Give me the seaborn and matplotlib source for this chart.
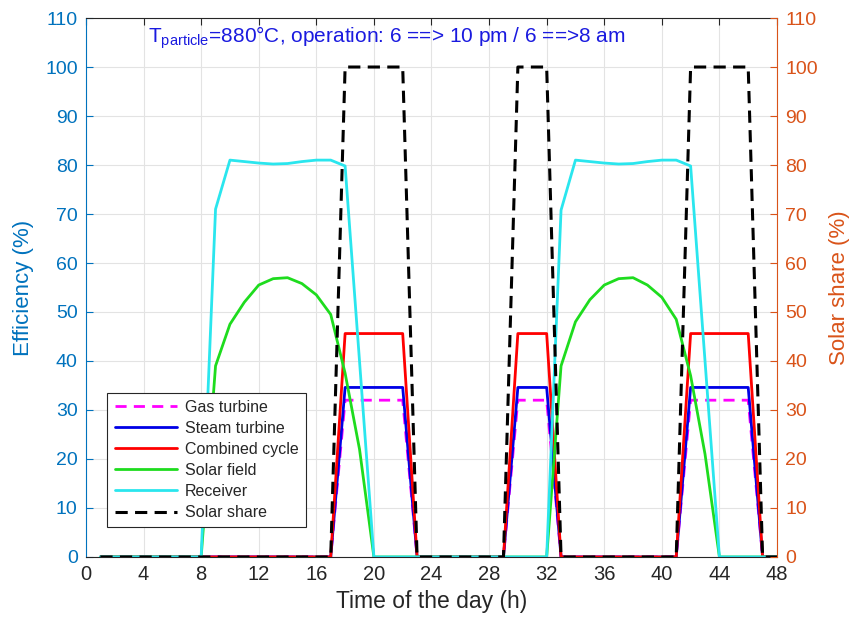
import numpy as np
import pandas as pd
import matplotlib
matplotlib.use("Agg")
import matplotlib.pyplot as plt
import seaborn as sns

# Hourly time axis (h), two days
hours = list(range(1, 49))

# Efficiencies (%)
gas_turbine = [0]*17 + [32.0]*5 + [0]*7 + [32.0]*3 + [0]*9 + [32.0]*5 + [0]*2
steam_turbine = [0]*17 + [34.6]*5 + [0]*7 + [34.6]*3 + [0]*9 + [34.6]*5 + [0]*2
combined_cycle = [0]*17 + [45.6]*5 + [0]*7 + [45.6]*3 + [0]*9 + [45.6]*5 + [0]*2
solar_field = ([0, 0, 0, 0, 0, 0, 0, 0,
                39.0, 47.5, 52.0, 55.5, 56.8, 57.0, 55.8, 53.5, 49.5, 37.5, 22.0,
                0, 0, 0, 0, 0, 0, 0, 0, 0, 0, 0, 0, 0,
                39.0, 48.0, 52.5, 55.5, 56.8, 57.0, 55.5, 53.0, 48.5, 37.0, 21.0,
                0, 0, 0, 0, 0])
receiver = ([0, 0, 0, 0, 0, 0, 0, 0,
             71.0, 81.0, 80.7, 80.4, 80.2, 80.3, 80.7, 81.0, 81.0, 79.8, 40.0,
             0, 0, 0, 0, 0, 0, 0, 0, 0, 0, 0, 0, 0,
             70.8, 81.0, 80.7, 80.4, 80.2, 80.3, 80.7, 81.0, 81.0, 79.8, 40.0,
             0, 0, 0, 0, 0])
# Solar share (%), right axis
solar_share = [0]*17 + [100]*5 + [0]*7 + [100]*3 + [0]*9 + [100]*5 + [0]*2

x_ticks = list(range(0, 49, 4))
y_ticks = list(range(0, 111, 10))

sns.set_style("white")
plt.rcParams["font.family"] = ["Liberation Sans", "DejaVu Sans"]
plt.rcParams["mathtext.fontset"] = "custom"
plt.rcParams["mathtext.rm"] = "Liberation Sans"
plt.rcParams["mathtext.it"] = "Liberation Sans:italic"

LEFT_C = "#0072BD"
RIGHT_C = "#D95319"
AX_C = "#262626"

fig = plt.figure(figsize=(8.53, 6.28), dpi=100)
ax = fig.add_axes([0.1008, 0.1131, 0.8101, 0.8582])
ax2 = ax.twinx()

lw = 2.0
series = [
    ("Gas turbine", gas_turbine, "#FF00FF", (0, (4, 2.6))),
    ("Steam turbine", steam_turbine, "#0000E6", "-"),
    ("Combined cycle", combined_cycle, "#FF0000", "-"),
    ("Solar field", solar_field, "#1EDC1E", "-"),
    ("Receiver", receiver, "#2AE6EE", "-"),
]
for name, vals, col, ls in series:
    df = pd.DataFrame({"hour": hours, "value": vals})
    sns.lineplot(data=df, x="hour", y="value", ax=ax, color=col, lw=lw,
                 linestyle=ls, label=name, legend=False)

df_share = pd.DataFrame({"hour": hours, "share": solar_share})
sns.lineplot(data=df_share, x="hour", y="share", ax=ax2, color="black",
             lw=2.2, linestyle=(0, (4, 2.4)), label="Solar share", legend=False)

for a in (ax, ax2):
    a.set_xlim(0, 48)
    a.set_ylim(0, 110)
    a.set_yticks(y_ticks)

ax.set_xticks(x_ticks)
ax.grid(True, color="#e3e3e3", lw=0.8)
ax.set_axisbelow(True)

ax.tick_params(axis="x", direction="in", length=5, colors=AX_C, labelsize=14.5,
               top=True, pad=6)
ax.tick_params(axis="y", direction="in", length=5, color=LEFT_C,
               labelcolor=LEFT_C, labelsize=14, pad=6)
ax2.tick_params(axis="y", direction="in", length=5, color=RIGHT_C,
                labelcolor=RIGHT_C, labelsize=14, pad=6)

for s in ("top", "bottom"):
    ax.spines[s].set_color(AX_C)
    ax2.spines[s].set_visible(False)
ax.spines["left"].set_color(LEFT_C)
ax2.spines["left"].set_visible(False)
ax2.spines["right"].set_color(RIGHT_C)
ax.spines["right"].set_visible(False)
for sp in ax.spines.values():
    sp.set_linewidth(0.8)
ax2.spines["right"].set_linewidth(0.8)

ax.set_xlabel("Time of the day (h)", fontsize=16.5, color=AX_C, labelpad=4)
ax.set_ylabel("Efficiency (%)", fontsize=16, color=LEFT_C, labelpad=8)
ax2.set_ylabel("Solar share (%)", fontsize=16, color=RIGHT_C, labelpad=8)

ax.text(0.0897, 0.954,
        r"T$_{\rm particle}$=880°C, operation: 6 ==> 10 pm / 6 ==>8 am",
        transform=ax.transAxes, fontsize=15, color="#1a1adf", va="baseline",
        ha="left")

h1, l1 = ax.get_legend_handles_labels()
h2, l2 = ax2.get_legend_handles_labels()
leg = ax2.legend(h1 + h2, l1 + l2, loc="lower left",
                 bbox_to_anchor=(0.031, 0.055), fontsize=11.5, frameon=True,
                 fancybox=False, edgecolor="#262626", framealpha=1,
                 handlelength=3.9, labelspacing=0.38, borderpad=0.45,
                 handletextpad=0.5, borderaxespad=0)
leg.get_frame().set_linewidth(0.8)

fig.savefig("out.png", dpi=100)
